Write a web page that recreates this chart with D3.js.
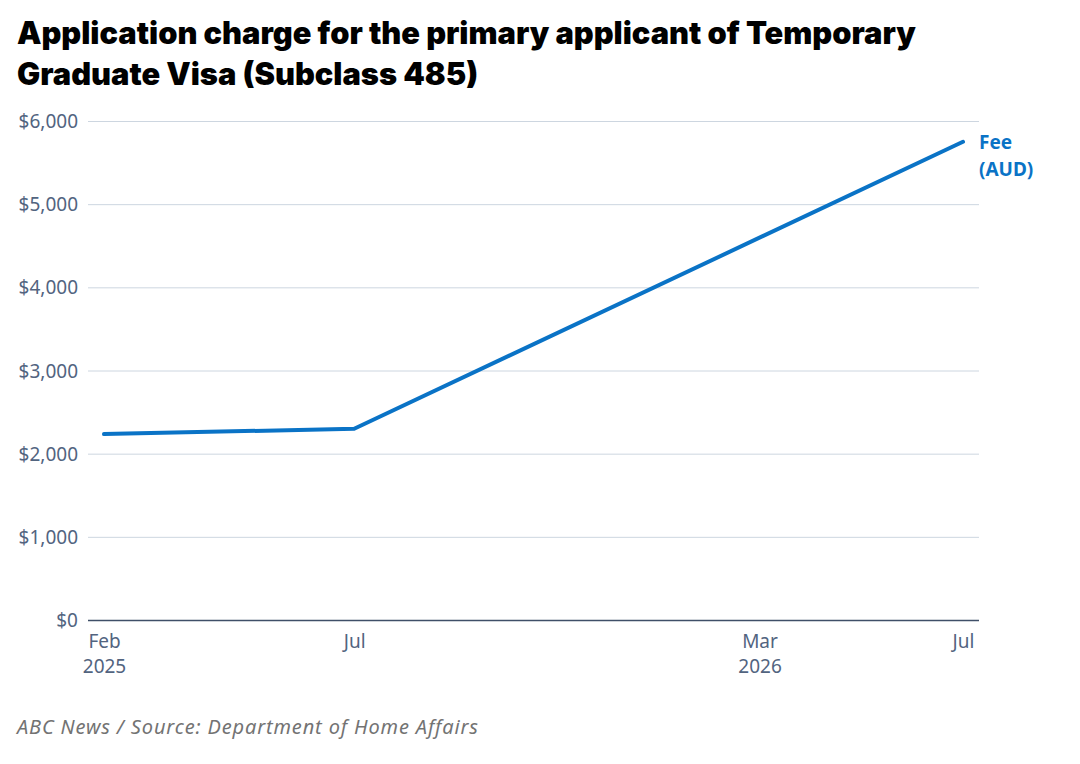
<!DOCTYPE html>
<html lang="en">
<head>
    <meta charset="UTF-8">
    <title>Temporary Graduate Visa charge</title>
    <script src="https://cdn.jsdelivr.net/npm/d3@7"></script>
    <style>
        body { margin: 0; background: #fff; font-family: "Inter", "Noto Sans", sans-serif; }
        .title { font-weight: 900; font-size: 30.8px; fill: #000; letter-spacing: 0px; }
        .tick text { font-family: "Noto Sans", sans-serif; font-size: 19px; fill: #52647f; }
        .source { font-family: "Noto Sans", sans-serif; font-style: italic; font-size: 20px; fill: #737373; letter-spacing: 0.85px; }
    </style>
</head>
<body>
    <div id="chart-space"></div>

    <script>
        // data
        var dates = ["2025-02-01", "2025-07-01", "2026-07-01"];
        var fees = [2235, 2300, 5750];
        var xTicks = ["2025-02-01", "2025-07-01", "2026-03-01", "2026-07-01"];
        var xTickLabels = [["Feb", "2025"], ["Jul"], ["Mar", "2026"], ["Jul"]];
        var yTicks = [0, 1000, 2000, 3000, 4000, 5000, 6000];
        var seriesLabel = ["Fee", "(AUD)"];

        var width = 1080, height = 764;
        var parse = d3.timeParse("%Y-%m-%d");

        var data = dates.map(function(d, i) { return {date: parse(d), fee: fees[i]}; });

        var svg = d3.select("#chart-space")
            .append("svg")
            .attr("width", width)
            .attr("height", height);

        // title
        svg.append("text").attr("class", "title").attr("x", 17).attr("y", 44)
            .text("Application charge for the primary applicant of Temporary");
        svg.append("text").attr("class", "title").attr("x", 17).attr("y", 85)
            .text("Graduate Visa (Subclass 485)");

        var xScale = d3.scaleTime()
            .domain([parse("2025-02-01"), parse("2026-07-01")])
            .range([104, 963]);

        var yScale = d3.scaleLinear()
            .domain([0, 6000])
            .range([620, 121]);

        // y grid + labels
        var yAxis = svg.append("g")
            .attr("transform", "translate(88,0)")
            .call(d3.axisLeft(yScale).tickValues(yTicks)
                .tickSize(-(979 - 88))
                .tickPadding(10)
                .tickFormat(function(d) { return "$" + d3.format(",")(d); }))
            .call(g => g.select(".domain").remove());
        yAxis.selectAll(".tick line")
            .attr("stroke", function(d) { return d === 0 ? "#3f4f68" : "#cdd6e0"; })
            .attr("stroke-width", function(d) { return d === 0 ? 1.6 : 1; });
        yAxis.selectAll(".tick text").attr("dy", "0.35em");

        // x axis labels
        var xAxis = svg.append("g")
            .attr("transform", "translate(0,620)")
            .call(d3.axisBottom(xScale).tickValues(xTicks.map(parse)).tickSize(0).tickFormat(""))
            .call(g => g.select(".domain").remove());
        xAxis.selectAll(".tick").each(function(d, i) {
            var t = d3.select(this).select("text").attr("y", 0).attr("dy", null);
            xTickLabels[i].forEach(function(s, j) {
                t.append("tspan").attr("x", 0).attr("y", 28 + j * 25).text(s);
            });
        });

        // line
        var line = d3.line()
            .x(function(d) { return xScale(d.date); })
            .y(function(d) { return yScale(d.fee); });

        svg.append("path")
            .datum(data)
            .attr("d", line)
            .attr("fill", "none")
            .attr("stroke", "#0a73c6")
            .attr("stroke-width", 4)
            .attr("stroke-linecap", "round")
            .attr("stroke-linejoin", "round");

        // series label
        var last = data[data.length - 1];
        var lbl = svg.append("text")
            .attr("x", 979)
            .attr("y", yScale(last.fee) + 7)
            .style("font-family", "Noto Sans, sans-serif")
            .style("font-weight", "bold")
            .style("font-size", "19px")
            .style("fill", "#0a73c6");
        seriesLabel.forEach(function(s, j) {
            lbl.append("tspan").attr("x", 979).attr("dy", j === 0 ? 0 : 27).text(s);
        });

        // source
        svg.append("text").attr("class", "source").attr("x", 17).attr("y", 734)
            .text("ABC News / Source: Department of Home Affairs");
    </script>
</body>
</html>
